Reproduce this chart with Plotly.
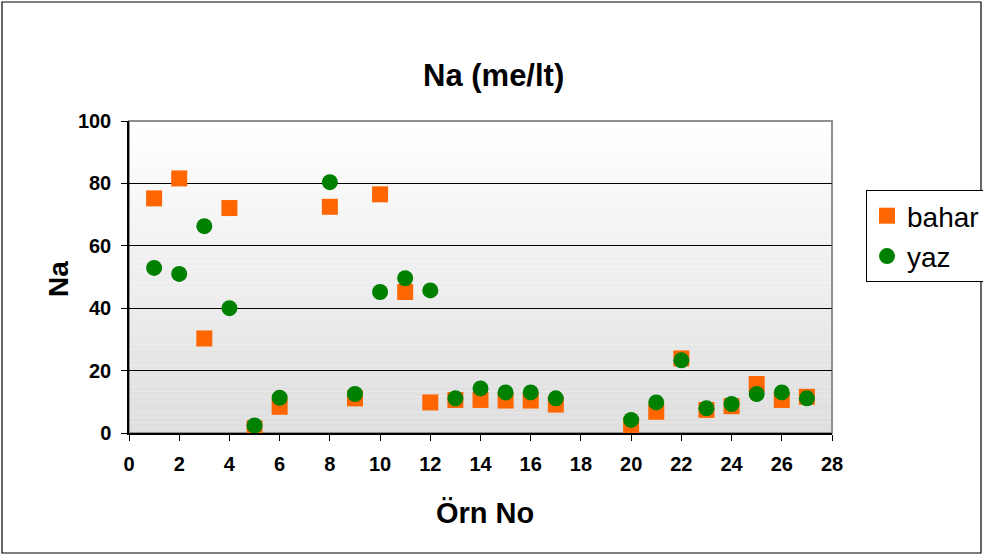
import plotly.graph_objects as go

x_bahar = [1, 2, 3, 4, 5, 6, 8, 9, 10, 11, 12, 13, 14, 15, 16, 17, 20, 21, 22, 23, 24, 25, 26, 27]
bahar = [75.2, 81.6, 30.3, 72.1, 1.5, 8.4, 72.5, 11.1, 76.5, 45.2, 9.8, 10.6, 10.6, 10.4, 10.4, 9.1,
         2.6, 6.8, 23.9, 7.4, 8.6, 15.7, 10.6, 11.6]
x_yaz = [1, 2, 3, 4, 5, 6, 8, 9, 10, 11, 12, 13, 14, 15, 16, 17, 20, 21, 22, 23, 24, 25, 26, 27]
yaz = [52.9, 51.0, 66.3, 40.0, 2.4, 11.3, 80.4, 12.5, 45.2, 49.6, 45.7, 11.1, 14.3, 13.0, 13.0, 11.1,
       4.2, 9.8, 23.3, 7.9, 9.3, 12.5, 13.0, 11.1]
x_ticks = list(range(0, 29, 2))
y_ticks = [0, 20, 40, 60, 80, 100]

W, H = 983, 556
L, R, T, B = 129, 832, 121, 433
FONT = "Liberation Sans, Arial, sans-serif"

fig = go.Figure()
fig.add_trace(go.Scatter(x=x_bahar, y=bahar, mode="markers", name="bahar", legendgroup="a",
                         marker=dict(symbol="square", size=16, color="#FF6600",
                                     line=dict(width=0))))
fig.add_trace(go.Scatter(x=x_yaz, y=yaz, mode="markers", name="yaz", legendgroup="b",
                         marker=dict(symbol="circle", size=16, color="#008000",
                                     line=dict(width=0))))

shapes = []
n = 60
for i in range(n):
    f = i / (n - 1)
    c = int(round(255 - (255 - 222) * f))
    shapes.append(dict(type="rect", xref="paper", yref="paper", x0=0, x1=1,
                       y0=1 - (i + 1) / n, y1=1 - i / n, line=dict(width=0),
                       fillcolor=f"rgb({c},{c},{c})", layer="below"))
shapes.append(dict(type="rect", xref="paper", yref="paper", x0=0, x1=1, y0=0, y1=1,
                   line=dict(color="#909090", width=2), layer="below"))
pw, ph = R - L, B - T
shapes.append(dict(type="rect", xref="paper", yref="paper",
                   x0=(2 - L) / pw, x1=(981 - L) / pw,
                   y0=(B - 553) / ph, y1=(B - 2) / ph,
                   line=dict(color="black", width=1.2)))

annotations = [
    dict(text="Na (me/lt)", xref="paper", yref="paper", x=(493 - L) / pw, y=(B - 75) / ph,
         xanchor="center", yanchor="middle", showarrow=False,
         font=dict(size=31, family=FONT, weight="bold", color="black")),
    dict(text="Örn No", xref="paper", yref="paper", x=(485 - L) / pw, y=(B - 513) / ph,
         xanchor="center", yanchor="middle", showarrow=False,
         font=dict(size=29, family=FONT, weight="bold", color="black")),
    dict(text="Na", xref="paper", yref="paper", x=(58 - L) / pw, y=(B - 279) / ph,
         xanchor="center", yanchor="middle", showarrow=False, textangle=-90,
         font=dict(size=28, family=FONT, weight="bold", color="black")),
]

fig.update_layout(
    width=W, height=H,
    margin=dict(l=L, r=W - R, t=T, b=H - B, autoexpand=False),
    paper_bgcolor="white",
    plot_bgcolor="rgba(0,0,0,0)",
    font=dict(family=FONT, color="black"),
    shapes=shapes,
    annotations=annotations,
    legend=dict(x=(866 - L) / pw, y=(B - 190) / ph, xanchor="left", yanchor="top",
                bordercolor="black", borderwidth=1, bgcolor="white",
                font=dict(size=28, family=FONT), tracegroupgap=1, itemwidth=30),
    xaxis=dict(range=[0, 28], tickvals=x_ticks, ticks="outside", ticklen=6,
               tickcolor="black", showline=True, linecolor="black", linewidth=1.5,
               showgrid=False, zeroline=False, ticklabelstandoff=6,
               tickfont=dict(size=20, family=FONT, weight="bold")),
    yaxis=dict(range=[0, 100], tickvals=y_ticks, ticks="outside", ticklen=6,
               tickcolor="black", showline=True, linecolor="black", linewidth=1.5,
               showgrid=True, gridcolor="black", gridwidth=1, zeroline=False,
               ticklabelstandoff=6,
               tickfont=dict(size=20, family=FONT, weight="bold")),
)

fig.write_html("out.html")
